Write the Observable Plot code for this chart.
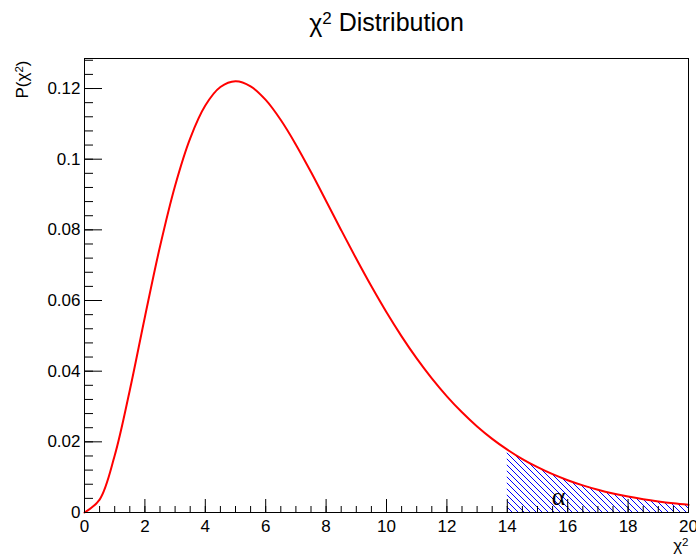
<!DOCTYPE html>
<html><head><meta charset="utf-8">
<script src="https://cdn.jsdelivr.net/npm/d3@7"></script>
<script src="https://cdn.jsdelivr.net/npm/@observablehq/plot@0.6"></script>
<style>body{margin:0;background:#fff;} svg{display:block}</style>
</head><body><div id="chart"></div>
<script>
// values
const chi2 = [0,0.5,1,1.5,2,2.5,3,3.5,4,4.5,5,5.5,6,6.5,7,7.5,8,8.5,9,9.5,10,10.5,11,11.5,12,12.5,13,13.5,14,14.5,15,15.5,16,16.5,17,17.5,18,18.5,19,19.5,20];
const pdf = [0,0.00366,0.01613,0.03462,0.05535,0.07530,0.09251,0.10592,0.11518,0.12042,0.12204,0.12062,0.11677,0.11108,0.10412,0.09636,0.08818,0.07991,0.07180,0.06401,0.05667,0.04986,0.04362,0.03797,0.03289,0.02836,0.02436,0.02085,0.01779,0.01512,0.01282,0.01084,0.00914,0.00768,0.00645,0.00540,0.00451,0.00376,0.00313,0.00260,0.00216];
const xTicks = [0,2,4,6,8,10,12,14,16,18,20];
const xTickLabels = ["0","2","4","6","8","10","12","14","16","18","20"];
const yTicks = [0,0.02,0.04,0.06,0.08,0.1,0.12];
const yTickLabels = ["0","0.02","0.04","0.06","0.08","0.1","0.12"];
const alphaStart = 14;
const titleText = "χ² Distribution";
const xTitle = "χ²";
const yTitle = "P(χ²)";
const alphaLabel = [{x: 15.7, y: 0.0045, text: "α"}];

const W = 696, H = 557, ml = 84, mr = 8, mt = 58, mb = 45;
const fw = W - ml - mr, fh = H - mt - mb;
const data = chi2.map((x, i) => ({x, y: pdf[i]}));
const tail = data.filter(d => d.x >= alphaStart);
const xMinor = d3.range(0, 20.001, 0.5);
const yMinor = d3.range(0, 0.1285, 0.004);

const plot = Plot.plot({
  width: W, height: H,
  marginLeft: ml, marginRight: mr, marginTop: mt, marginBottom: mb,
  x: {domain: [0, 20], axis: null},
  y: {domain: [0, 0.1285], axis: null},
  style: {fontFamily: "'Liberation Sans', Arial, sans-serif", background: "white", color: "black"},
  marks: [
    Plot.areaY(tail, {x: "x", y: "y", fill: "url(#hatch)", curve: "catmull-rom"}),
    Plot.line(data, {x: "x", y: "y", stroke: "red", strokeWidth: 2, curve: "catmull-rom"}),
    Plot.tickX(xMinor, {x: d => d, insetTop: fh - 6, stroke: "black"}),
    Plot.tickX(xTicks, {x: d => d, insetTop: fh - 13, stroke: "black"}),
    Plot.tickY(yMinor, {y: d => d, insetRight: fw - 9, stroke: "black"}),
    Plot.tickY(yTicks, {y: d => d, insetRight: fw - 18, stroke: "black"}),
    Plot.frame({stroke: "black"}),
    Plot.text(xTicks, {x: d => d, frameAnchor: "bottom", text: (d, i) => xTickLabels[i], lineAnchor: "top", dy: 7, fontSize: 17}),
    Plot.text(yTicks, {y: d => d, frameAnchor: "left", textAnchor: "end", dx: -4, text: (d, i) => yTickLabels[i], fontSize: 17}),
    Plot.text([titleText], {frameAnchor: "top", lineAnchor: "middle", dy: -35, fontSize: 25, className: "sup"}),
    Plot.text([yTitle], {frameAnchor: "top-left", lineAnchor: "middle", rotate: -90, textAnchor: "end", dx: -62, dy: 2, fontSize: 17, className: "sup"}),
    Plot.text([xTitle], {frameAnchor: "bottom-right", lineAnchor: "middle", textAnchor: "end", dy: 33, fontSize: 17, className: "sup"}),
    Plot.text(alphaLabel, {x: "x", y: "y", text: "text", fontSize: 26, fontFamily: "'Liberation Serif', serif"})
  ]
});

const defs = d3.select(plot).insert("defs", ":first-child");
defs.append("pattern")
  .attr("id", "hatch").attr("patternUnits", "userSpaceOnUse")
  .attr("width", 6).attr("height", 6)
  .append("path")
  .attr("d", "M-1,-1L7,7M-1,5L1,7M5,-1L7,1")
  .attr("stroke", "blue").attr("stroke-width", 1).attr("fill", "none");

// render "²" as a real raised "2"
d3.select(plot).selectAll("g.sup text").each(function() {
  const t = d3.select(this);
  const s = t.text();
  const k = s.indexOf("²");
  if (k < 0) return;
  t.text(null);
  t.append("tspan").text(s.slice(0, k));
  t.append("tspan").attr("dy", "-0.45em").attr("font-size", "0.68em").text("2");
  if (k + 1 < s.length) t.append("tspan").attr("dy", "0.3em").text(s.slice(k + 1));
});

document.getElementById("chart").appendChild(plot);
</script>
</body></html>
